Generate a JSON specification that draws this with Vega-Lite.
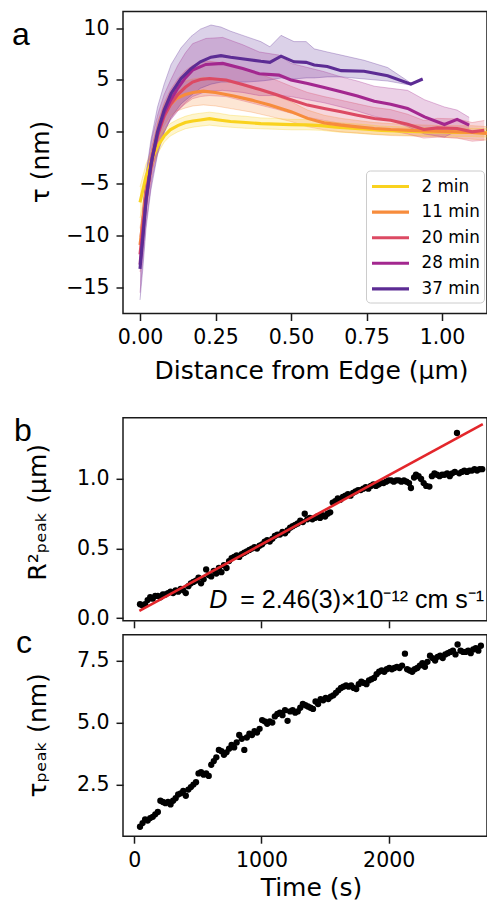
{
  "$schema": "https://vega.github.io/schema/vega-lite/v6.json",
  "padding": {"left": 11, "top": 10.5, "right": 0, "bottom": 0},
  "bounds": "flush",
  "spacing": 104.3,
  "config": {
    "font": "DejaVu Sans",
    "view": {"stroke": "#1a1a1a", "strokeWidth": 1.5},
    "axis": {"labelFont": "DejaVu Sans", "labelFontSize": 20.5, "labelColor": "#000", "titleFont": "DejaVu Sans", "titleFontSize": 25, "titleFontWeight": "normal", "titleColor": "#000", "tickSize": 7, "tickWidth": 1.5, "tickColor": "#1a1a1a", "domain": false, "grid": false, "labelPadding": 7, "labelFlush": false, "labelOverlap": false},
    "title": {"font": "Liberation Sans", "fontSize": 32, "fontWeight": "normal", "anchor": "start", "frame": "group", "offset": 0, "baseline": "alphabetic", "color": "#000"},
    "legend": {"labelFont": "DejaVu Sans", "labelFontSize": 16.8, "labelColor": "#000"}
  },
  "vconcat": [
    {
      "width": 364,
      "height": 302,
      "title": {"text": "a", "dx": -111, "dy": 44},
      "data": {"values": [
        {"s":"2 min","x":0,"y":-6.8,"lo":-8.3,"hi":-5.3},
        {"s":"2 min","x":0.02,"y":-4.3,"lo":-5.5,"hi":-3.1},
        {"s":"2 min","x":0.04,"y":-2.6,"lo":-3.5,"hi":-1.7},
        {"s":"2 min","x":0.06,"y":-1.3,"lo":-2.0,"hi":-0.6},
        {"s":"2 min","x":0.08,"y":-0.4,"lo":-1.0,"hi":0.2},
        {"s":"2 min","x":0.1,"y":0.2,"lo":-0.4,"hi":0.8},
        {"s":"2 min","x":0.125,"y":0.6,"lo":0.0,"hi":1.2},
        {"s":"2 min","x":0.15,"y":0.9,"lo":0.3,"hi":1.5},
        {"s":"2 min","x":0.175,"y":1.05,"lo":0.45,"hi":1.7},
        {"s":"2 min","x":0.2,"y":1.15,"lo":0.55,"hi":1.8},
        {"s":"2 min","x":0.23,"y":1.28,"lo":0.65,"hi":1.9},
        {"s":"2 min","x":0.26,"y":1.15,"lo":0.55,"hi":1.8},
        {"s":"2 min","x":0.3,"y":1.0,"lo":0.45,"hi":1.6},
        {"s":"2 min","x":0.35,"y":0.9,"lo":0.35,"hi":1.5},
        {"s":"2 min","x":0.4,"y":0.8,"lo":0.3,"hi":1.35},
        {"s":"2 min","x":0.45,"y":0.75,"lo":0.25,"hi":1.3},
        {"s":"2 min","x":0.5,"y":0.7,"lo":0.2,"hi":1.2},
        {"s":"2 min","x":0.55,"y":0.68,"lo":0.2,"hi":1.2},
        {"s":"2 min","x":0.6,"y":0.6,"lo":0.15,"hi":1.05},
        {"s":"2 min","x":0.65,"y":0.45,"lo":0.0,"hi":0.9},
        {"s":"2 min","x":0.7,"y":0.35,"lo":-0.1,"hi":0.8},
        {"s":"2 min","x":0.75,"y":0.25,"lo":-0.2,"hi":0.7},
        {"s":"2 min","x":0.8,"y":0.15,"lo":-0.25,"hi":0.55},
        {"s":"2 min","x":0.85,"y":0.1,"lo":-0.3,"hi":0.5},
        {"s":"2 min","x":0.9,"y":0.05,"lo":-0.35,"hi":0.45},
        {"s":"2 min","x":0.95,"y":0.0,"lo":-0.4,"hi":0.4},
        {"s":"2 min","x":1.0,"y":0.0,"lo":-0.4,"hi":0.4},
        {"s":"2 min","x":1.05,"y":-0.05,"lo":-0.45,"hi":0.35},
        {"s":"2 min","x":1.1,"y":-0.05,"lo":-0.45,"hi":0.35},
        {"s":"2 min","x":1.15,"y":-0.1,"lo":-0.5,"hi":0.3},

        {"s":"11 min","x":0,"y":-10.9,"lo":-12.5,"hi":-9.3},
        {"s":"11 min","x":0.02,"y":-6.0,"lo":-7.3,"hi":-4.7},
        {"s":"11 min","x":0.04,"y":-2.5,"lo":-3.6,"hi":-1.4},
        {"s":"11 min","x":0.06,"y":0.0,"lo":-1.0,"hi":1.0},
        {"s":"11 min","x":0.08,"y":1.6,"lo":0.6,"hi":2.6},
        {"s":"11 min","x":0.1,"y":2.6,"lo":1.5,"hi":3.7},
        {"s":"11 min","x":0.12,"y":3.2,"lo":2.0,"hi":4.4},
        {"s":"11 min","x":0.15,"y":3.6,"lo":2.3,"hi":4.9},
        {"s":"11 min","x":0.175,"y":3.8,"lo":2.5,"hi":5.1},
        {"s":"11 min","x":0.21,"y":3.93,"lo":2.6,"hi":5.25},
        {"s":"11 min","x":0.25,"y":3.8,"lo":2.5,"hi":5.1},
        {"s":"11 min","x":0.31,"y":3.45,"lo":2.2,"hi":4.7},
        {"s":"11 min","x":0.37,"y":3.06,"lo":1.9,"hi":4.25},
        {"s":"11 min","x":0.43,"y":2.58,"lo":1.5,"hi":3.7},
        {"s":"11 min","x":0.5,"y":1.95,"lo":1.0,"hi":2.9},
        {"s":"11 min","x":0.555,"y":1.3,"lo":0.5,"hi":2.1},
        {"s":"11 min","x":0.61,"y":0.87,"lo":0.2,"hi":1.6},
        {"s":"11 min","x":0.666,"y":0.65,"lo":0.0,"hi":1.3},
        {"s":"11 min","x":0.72,"y":0.48,"lo":-0.1,"hi":1.1},
        {"s":"11 min","x":0.776,"y":0.33,"lo":-0.25,"hi":0.9},
        {"s":"11 min","x":0.83,"y":0.23,"lo":-0.35,"hi":0.8},
        {"s":"11 min","x":0.9,"y":0.15,"lo":-0.4,"hi":0.7},
        {"s":"11 min","x":0.95,"y":0.1,"lo":-0.45,"hi":0.65},
        {"s":"11 min","x":1.0,"y":0.05,"lo":-0.5,"hi":0.6},
        {"s":"11 min","x":1.05,"y":0.0,"lo":-0.6,"hi":0.6},
        {"s":"11 min","x":1.1,"y":-0.05,"lo":-0.7,"hi":0.6},
        {"s":"11 min","x":1.15,"y":-0.15,"lo":-0.8,"hi":0.5},

        {"s":"20 min","x":0,"y":-11.8,"lo":-13.5,"hi":-10.1},
        {"s":"20 min","x":0.02,"y":-6.2,"lo":-7.6,"hi":-4.8},
        {"s":"20 min","x":0.04,"y":-2.6,"lo":-3.8,"hi":-1.4},
        {"s":"20 min","x":0.06,"y":-0.2,"lo":-1.4,"hi":1.0},
        {"s":"20 min","x":0.08,"y":1.5,"lo":0.2,"hi":2.8},
        {"s":"20 min","x":0.1,"y":2.6,"lo":1.2,"hi":4.0},
        {"s":"20 min","x":0.125,"y":3.6,"lo":2.1,"hi":5.1},
        {"s":"20 min","x":0.15,"y":4.3,"lo":2.7,"hi":5.9},
        {"s":"20 min","x":0.174,"y":4.8,"lo":3.2,"hi":6.4},
        {"s":"20 min","x":0.2,"y":5.05,"lo":3.4,"hi":6.7},
        {"s":"20 min","x":0.23,"y":5.15,"lo":3.5,"hi":6.8},
        {"s":"20 min","x":0.285,"y":5.0,"lo":3.4,"hi":6.6},
        {"s":"20 min","x":0.34,"y":4.57,"lo":3.0,"hi":6.1},
        {"s":"20 min","x":0.395,"y":4.1,"lo":2.6,"hi":5.6},
        {"s":"20 min","x":0.45,"y":3.6,"lo":2.2,"hi":5.0},
        {"s":"20 min","x":0.5,"y":3.1,"lo":1.8,"hi":4.4},
        {"s":"20 min","x":0.555,"y":2.58,"lo":1.4,"hi":3.8},
        {"s":"20 min","x":0.61,"y":2.26,"lo":1.1,"hi":3.4},
        {"s":"20 min","x":0.666,"y":1.93,"lo":0.8,"hi":3.05},
        {"s":"20 min","x":0.72,"y":1.6,"lo":0.5,"hi":2.7},
        {"s":"20 min","x":0.776,"y":1.29,"lo":0.25,"hi":2.35},
        {"s":"20 min","x":0.83,"y":1.13,"lo":0.1,"hi":2.15},
        {"s":"20 min","x":0.886,"y":0.74,"lo":-0.2,"hi":1.7},
        {"s":"20 min","x":0.94,"y":0.23,"lo":-0.6,"hi":1.1},
        {"s":"20 min","x":0.985,"y":0.39,"lo":-0.5,"hi":1.3},
        {"s":"20 min","x":1.05,"y":0.33,"lo":-0.6,"hi":1.25},
        {"s":"20 min","x":1.1,"y":0.0,"lo":-0.9,"hi":0.9},
        {"s":"20 min","x":1.14,"y":0.16,"lo":-0.8,"hi":1.1},

        {"s":"28 min","x":0,"y":-12.8,"lo":-15.5,"hi":-10.1},
        {"s":"28 min","x":0.02,"y":-6.5,"lo":-8.8,"hi":-4.2},
        {"s":"28 min","x":0.04,"y":-2.5,"lo":-4.5,"hi":-0.5},
        {"s":"28 min","x":0.06,"y":0.0,"lo":-1.8,"hi":1.8},
        {"s":"28 min","x":0.08,"y":1.8,"lo":0.0,"hi":3.6},
        {"s":"28 min","x":0.1,"y":3.0,"lo":1.1,"hi":4.9},
        {"s":"28 min","x":0.125,"y":4.2,"lo":2.0,"hi":6.4},
        {"s":"28 min","x":0.15,"y":5.2,"lo":2.8,"hi":7.6},
        {"s":"28 min","x":0.174,"y":5.95,"lo":3.4,"hi":8.5},
        {"s":"28 min","x":0.218,"y":6.5,"lo":3.9,"hi":9.0},
        {"s":"28 min","x":0.274,"y":6.6,"lo":4.0,"hi":9.1},
        {"s":"28 min","x":0.34,"y":6.1,"lo":3.8,"hi":8.4},
        {"s":"28 min","x":0.395,"y":5.6,"lo":3.5,"hi":7.7},
        {"s":"28 min","x":0.46,"y":5.47,"lo":3.5,"hi":7.4},
        {"s":"28 min","x":0.5,"y":5.0,"lo":3.4,"hi":6.6},
        {"s":"28 min","x":0.555,"y":4.67,"lo":3.1,"hi":6.2},
        {"s":"28 min","x":0.61,"y":4.28,"lo":2.8,"hi":5.8},
        {"s":"28 min","x":0.666,"y":3.86,"lo":2.4,"hi":5.3},
        {"s":"28 min","x":0.72,"y":3.45,"lo":2.0,"hi":4.9},
        {"s":"28 min","x":0.776,"y":2.96,"lo":1.5,"hi":4.4},
        {"s":"28 min","x":0.83,"y":2.67,"lo":1.1,"hi":4.2},
        {"s":"28 min","x":0.886,"y":2.26,"lo":0.5,"hi":4.0},
        {"s":"28 min","x":0.942,"y":1.45,"lo":-0.2,"hi":3.1},
        {"s":"28 min","x":1.008,"y":0.71,"lo":-0.5,"hi":2.4},
        {"s":"28 min","x":1.05,"y":1.2,"lo":0.1,"hi":2.1},
        {"s":"28 min","x":1.09,"y":0.65,"lo":0.1,"hi":1.4},

        {"s":"37 min","x":0,"y":-13.2,"lo":-16.2,"hi":-10.5},
        {"s":"37 min","x":0.01,"y":-10.0,"lo":-13.0,"hi":-7.5},
        {"s":"37 min","x":0.02,"y":-6.6,"lo":-9.3,"hi":-4.0},
        {"s":"37 min","x":0.036,"y":-3.2,"lo":-5.6,"hi":-0.8},
        {"s":"37 min","x":0.058,"y":0.0,"lo":-2.2,"hi":2.4},
        {"s":"37 min","x":0.08,"y":2.1,"lo":-0.1,"hi":4.6},
        {"s":"37 min","x":0.103,"y":3.7,"lo":1.4,"hi":6.5},
        {"s":"37 min","x":0.136,"y":5.15,"lo":2.7,"hi":8.1},
        {"s":"37 min","x":0.169,"y":6.1,"lo":3.5,"hi":9.2},
        {"s":"37 min","x":0.2,"y":6.75,"lo":4.2,"hi":9.9},
        {"s":"37 min","x":0.235,"y":7.2,"lo":4.6,"hi":10.3},
        {"s":"37 min","x":0.268,"y":7.35,"lo":4.8,"hi":10.1},
        {"s":"37 min","x":0.3,"y":7.2,"lo":4.8,"hi":9.7},
        {"s":"37 min","x":0.35,"y":7.0,"lo":4.8,"hi":9.2},
        {"s":"37 min","x":0.4,"y":6.8,"lo":4.9,"hi":8.7},
        {"s":"37 min","x":0.43,"y":6.7,"lo":5.0,"hi":8.2},
        {"s":"37 min","x":0.467,"y":7.3,"lo":5.2,"hi":9.3},
        {"s":"37 min","x":0.51,"y":6.75,"lo":5.1,"hi":8.7},
        {"s":"37 min","x":0.55,"y":6.7,"lo":5.2,"hi":8.7},
        {"s":"37 min","x":0.577,"y":6.45,"lo":5.2,"hi":8.0},
        {"s":"37 min","x":0.62,"y":6.3,"lo":5.3,"hi":7.7},
        {"s":"37 min","x":0.666,"y":5.9,"lo":5.3,"hi":7.4},
        {"s":"37 min","x":0.742,"y":5.85,"lo":5.1,"hi":6.9},
        {"s":"37 min","x":0.82,"y":5.4,"lo":4.9,"hi":6.2},
        {"s":"37 min","x":0.897,"y":4.6,"lo":4.5,"hi":4.7},
        {"s":"37 min","x":0.936,"y":5.1,"lo":5.1,"hi":5.1}
      ]},
      "encoding": {
        "x": {"field": "x", "type": "quantitative", "scale": {"domain": [-0.0563, 1.149], "nice": false, "zero": false}, "axis": {"values": [0, 0.25, 0.5, 0.75, 1], "format": ".2f", "title": "Distance from Edge (μm)", "titleX": 188, "titlePadding": 10}},
        "color": {"field": "s", "type": "nominal", "scale": {"domain": ["2 min", "11 min", "20 min", "28 min", "37 min"], "range": ["#f9d21e", "#f78c3c", "#dc4a63", "#a3278f", "#5c2c94"]}, "legend": {"orient": "none", "legendX": 243, "legendY": 159, "title": null, "symbolType": "M-1.85,0H1.85", "symbolStrokeWidth": 3.1, "symbolSize": 400, "symbolOpacity": 1, "symbolOffset": 8.5, "labelOffset": 19, "rowPadding": 4.6, "padding": 4, "fillColor": "rgba(255,255,255,0.85)", "strokeColor": "#cccccc", "cornerRadius": 4}}
      },
      "layer": [
        {"mark": {"type": "area", "opacity": 0.22, "clip": true}, "encoding": {"y": {"field": "lo", "type": "quantitative", "scale": {"domain": [-17.5, 11.6], "nice": false, "zero": false}, "axis": {"values": [-15, -10, -5, 0, 5, 10], "labelExpr": "replace(datum.label, '-', '−')", "title": "τ (nm)", "titleX": -75, "titleY": 150, "titleBaseline": "alphabetic"}}, "y2": {"field": "hi"}}},
        {"mark": {"type": "line", "strokeWidth": 1, "opacity": 0.3, "clip": true}, "encoding": {"y": {"field": "lo", "type": "quantitative", "title": "τ (nm)"}}},
        {"mark": {"type": "line", "strokeWidth": 1, "opacity": 0.3, "clip": true}, "encoding": {"y": {"field": "hi", "type": "quantitative", "title": "τ (nm)"}}},
        {"mark": {"type": "line", "strokeWidth": 3.1, "clip": true}, "encoding": {"y": {"field": "y", "type": "quantitative", "title": "τ (nm)"}}}
      ]
    },
    {
      "bounds": "flush",
      "spacing": 14,
      "vconcat": [
        {
          "width": 364,
          "height": 203,
          "title": {"text": "b", "dx": -109, "dy": 34.4},
          "layer": [
            {
              "data": {"values": [
                {"t":45,"r":0.10},{"t":65,"r":0.09},{"t":85,"r":0.10},{"t":105,"r":0.13},{"t":125,"r":0.15},{"t":145,"r":0.14},{"t":165,"r":0.16},{"t":185,"r":0.16},{"t":205,"r":0.15},{"t":225,"r":0.17},
                {"t":245,"r":0.17},{"t":265,"r":0.18},{"t":285,"r":0.19},{"t":305,"r":0.18},{"t":325,"r":0.20},{"t":345,"r":0.19},{"t":365,"r":0.21},{"t":385,"r":0.20},{"t":405,"r":0.18},{"t":425,"r":0.23},
                {"t":445,"r":0.25},{"t":465,"r":0.26},{"t":485,"r":0.27},{"t":505,"r":0.29},{"t":525,"r":0.25},{"t":545,"r":0.28},{"t":565,"r":0.35},{"t":585,"r":0.31},{"t":605,"r":0.30},{"t":625,"r":0.34},
                {"t":645,"r":0.32},{"t":665,"r":0.36},{"t":685,"r":0.33},{"t":705,"r":0.38},{"t":725,"r":0.36},{"t":745,"r":0.41},{"t":765,"r":0.43},{"t":785,"r":0.44},{"t":805,"r":0.45},{"t":825,"r":0.44},
                {"t":845,"r":0.46},{"t":865,"r":0.47},{"t":885,"r":0.48},{"t":905,"r":0.49},{"t":925,"r":0.50},{"t":945,"r":0.51},{"t":965,"r":0.50},{"t":985,"r":0.52},{"t":1005,"r":0.53},{"t":1025,"r":0.55},
                {"t":1045,"r":0.56},{"t":1065,"r":0.55},{"t":1085,"r":0.57},{"t":1105,"r":0.59},{"t":1125,"r":0.60},{"t":1145,"r":0.60},{"t":1165,"r":0.62},{"t":1185,"r":0.61},{"t":1205,"r":0.63},{"t":1225,"r":0.65},
                {"t":1245,"r":0.66},{"t":1265,"r":0.67},{"t":1285,"r":0.68},{"t":1305,"r":0.70},{"t":1325,"r":0.69},{"t":1340,"r":0.75},{"t":1360,"r":0.71},{"t":1380,"r":0.72},{"t":1400,"r":0.71},{"t":1420,"r":0.72},
                {"t":1440,"r":0.73},{"t":1460,"r":0.72},{"t":1480,"r":0.74},{"t":1500,"r":0.73},{"t":1520,"r":0.75},{"t":1540,"r":0.76},{"t":1560,"r":0.83},{"t":1580,"r":0.84},{"t":1600,"r":0.86},{"t":1620,"r":0.85},
                {"t":1640,"r":0.87},{"t":1660,"r":0.88},{"t":1680,"r":0.89},{"t":1700,"r":0.88},{"t":1720,"r":0.90},{"t":1740,"r":0.91},{"t":1760,"r":0.92},{"t":1780,"r":0.92},{"t":1800,"r":0.93},{"t":1820,"r":0.94},
                {"t":1840,"r":0.93},{"t":1860,"r":0.95},{"t":1880,"r":0.96},{"t":1900,"r":0.95},{"t":1920,"r":0.96},{"t":1940,"r":0.97},{"t":1960,"r":0.97},{"t":1980,"r":0.98},{"t":2000,"r":0.99},{"t":2020,"r":0.99},
                {"t":2040,"r":0.98},{"t":2060,"r":0.99},{"t":2080,"r":0.99},{"t":2100,"r":0.98},{"t":2120,"r":0.99},{"t":2140,"r":0.98},{"t":2160,"r":0.97},{"t":2175,"r":0.935},{"t":2200,"r":1.01},{"t":2215,"r":1.03},
                {"t":2235,"r":1.02},{"t":2255,"r":1.00},{"t":2275,"r":0.97},{"t":2295,"r":0.95},{"t":2320,"r":0.945},{"t":2340,"r":1.02},{"t":2360,"r":1.04},{"t":2380,"r":1.03},{"t":2400,"r":1.02},{"t":2420,"r":1.03},
                {"t":2440,"r":1.03},{"t":2460,"r":1.04},{"t":2480,"r":1.02},{"t":2500,"r":1.04},{"t":2520,"r":1.05},{"t":2537,"r":1.33},{"t":2555,"r":1.04},{"t":2575,"r":1.05},{"t":2595,"r":1.06},{"t":2615,"r":1.05},
                {"t":2635,"r":1.06},{"t":2655,"r":1.06},{"t":2675,"r":1.07},{"t":2695,"r":1.06},{"t":2715,"r":1.07},{"t":2735,"r":1.07}
              ]},
              "mark": {"type": "circle", "size": 40, "color": "#000", "opacity": 1, "clip": true},
              "encoding": {
                "x": {"field": "t", "type": "quantitative", "scale": {"domain": [-88.8, 2773], "nice": false, "zero": false}, "axis": {"values": [0, 1000, 2000], "labels": false, "title": null}},
                "y": {"field": "r", "type": "quantitative", "scale": {"domain": [-0.019, 1.439], "nice": false, "zero": false}, "axis": {"values": [0, 0.5, 1], "format": ".1f", "title": "R²ₚₑₐₖ (μm)", "titleX": -78, "titleY": 94, "titleBaseline": "alphabetic"}}
              }
            },
            {
              "data": {"values": [{"t": 40, "r": 0.053}, {"t": 2740, "r": 1.393}]},
              "mark": {"type": "line", "color": "#e3262b", "strokeWidth": 2.6, "clip": true},
              "encoding": {"x": {"field": "t", "type": "quantitative"}, "y": {"field": "r", "type": "quantitative"}}
            },
            {
              "data": {"values": [{"t": 590, "r": 0.076, "label": "D"}]},
              "mark": {"type": "text", "font": "Liberation Sans", "fontSize": 25, "fontStyle": "italic", "align": "left", "baseline": "alphabetic", "color": "#000"},
              "encoding": {"x": {"field": "t", "type": "quantitative"}, "y": {"field": "r", "type": "quantitative"}, "text": {"field": "label"}}
            },
            {
              "data": {"values": [{"t": 2750, "r": 0.076, "label": "= 2.46(3)×10⁻¹² cm s⁻¹"}]},
              "mark": {"type": "text", "font": "Liberation Sans", "fontSize": 25, "align": "right", "baseline": "alphabetic", "color": "#000"},
              "encoding": {"x": {"field": "t", "type": "quantitative"}, "y": {"field": "r", "type": "quantitative"}, "text": {"field": "label"}}
            }
          ]
        },
        {
          "width": 364,
          "height": 201.4,
          "title": {"text": "c", "dx": -107, "dy": 29},
          "data": {"values": [
            {"t":45,"v":0.80},{"t":65,"v":0.95},{"t":85,"v":1.10},{"t":105,"v":1.05},{"t":125,"v":1.15},{"t":145,"v":1.20},{"t":165,"v":1.30},{"t":185,"v":1.40},{"t":205,"v":1.85},{"t":225,"v":1.80},
            {"t":245,"v":1.75},{"t":265,"v":1.80},{"t":285,"v":1.70},{"t":305,"v":1.85},{"t":325,"v":1.95},{"t":345,"v":2.10},{"t":365,"v":2.15},{"t":385,"v":2.25},{"t":405,"v":2.05},{"t":425,"v":2.30},
            {"t":445,"v":2.40},{"t":465,"v":2.50},{"t":485,"v":2.60},{"t":505,"v":2.95},{"t":525,"v":3.00},{"t":545,"v":2.90},{"t":565,"v":2.95},{"t":585,"v":2.85},{"t":605,"v":3.30},{"t":625,"v":3.45},
            {"t":645,"v":3.60},{"t":665,"v":3.90},{"t":685,"v":3.85},{"t":705,"v":3.70},{"t":725,"v":3.80},{"t":745,"v":3.95},{"t":765,"v":4.10},{"t":785,"v":4.00},{"t":805,"v":4.20},{"t":825,"v":4.50},
            {"t":845,"v":4.35},{"t":865,"v":3.90},{"t":885,"v":4.40},{"t":905,"v":4.55},{"t":925,"v":4.50},{"t":945,"v":4.65},{"t":965,"v":4.60},{"t":985,"v":4.75},{"t":1005,"v":5.10},{"t":1025,"v":5.05},
            {"t":1045,"v":4.95},{"t":1065,"v":5.05},{"t":1085,"v":5.00},{"t":1105,"v":5.25},{"t":1125,"v":5.35},{"t":1145,"v":5.40},{"t":1165,"v":5.30},{"t":1185,"v":5.50},{"t":1205,"v":5.07},{"t":1225,"v":5.45},
            {"t":1245,"v":5.50},{"t":1265,"v":5.40},{"t":1285,"v":5.45},{"t":1305,"v":5.60},{"t":1325,"v":5.75},{"t":1345,"v":5.70},{"t":1365,"v":5.65},{"t":1385,"v":5.60},{"t":1405,"v":5.55},{"t":1425,"v":5.85},
            {"t":1445,"v":5.75},{"t":1465,"v":5.95},{"t":1485,"v":5.90},{"t":1505,"v":6.00},{"t":1525,"v":5.95},{"t":1545,"v":6.05},{"t":1565,"v":6.10},{"t":1585,"v":6.20},{"t":1605,"v":6.30},{"t":1625,"v":6.40},
            {"t":1645,"v":6.45},{"t":1665,"v":6.50},{"t":1685,"v":6.45},{"t":1705,"v":6.50},{"t":1725,"v":6.40},{"t":1745,"v":6.35},{"t":1765,"v":6.55},{"t":1785,"v":6.65},{"t":1805,"v":6.60},{"t":1825,"v":6.55},
            {"t":1845,"v":6.70},{"t":1865,"v":6.75},{"t":1885,"v":6.80},{"t":1905,"v":6.95},{"t":1925,"v":7.05},{"t":1945,"v":7.10},{"t":1965,"v":7.05},{"t":1985,"v":7.15},{"t":2005,"v":7.20},{"t":2025,"v":7.15},
            {"t":2045,"v":7.20},{"t":2065,"v":7.25},{"t":2085,"v":7.20},{"t":2105,"v":7.30},{"t":2128,"v":7.78},{"t":2145,"v":7.15},{"t":2165,"v":7.10},{"t":2185,"v":7.05},{"t":2205,"v":7.15},{"t":2225,"v":7.20},
            {"t":2245,"v":7.30},{"t":2265,"v":7.40},{"t":2285,"v":7.25},{"t":2305,"v":7.45},{"t":2325,"v":7.70},{"t":2345,"v":7.60},{"t":2365,"v":7.50},{"t":2385,"v":7.65},{"t":2405,"v":7.70},{"t":2425,"v":7.60},
            {"t":2445,"v":7.75},{"t":2465,"v":7.80},{"t":2485,"v":7.85},{"t":2505,"v":7.90},{"t":2525,"v":7.75},{"t":2542,"v":8.15},{"t":2565,"v":7.90},{"t":2585,"v":7.85},{"t":2605,"v":7.85},{"t":2625,"v":7.90},
            {"t":2645,"v":7.80},{"t":2665,"v":7.95},{"t":2685,"v":8.00},{"t":2705,"v":7.90},{"t":2725,"v":8.10}
          ]},
          "mark": {"type": "circle", "size": 40, "color": "#000", "opacity": 1, "clip": true},
          "encoding": {
            "x": {"field": "t", "type": "quantitative", "scale": {"domain": [-88.8, 2773], "nice": false, "zero": false}, "axis": {"values": [0, 1000, 2000], "format": "d", "title": "Time (s)", "titleX": 188, "titlePadding": 5}},
            "y": {"field": "v", "type": "quantitative", "scale": {"domain": [0.42, 8.54], "nice": false, "zero": false}, "axis": {"values": [2.5, 5, 7.5], "format": ".1f", "title": "τₚₑₐₖ (nm)", "titleX": -78, "titleY": 100, "titleBaseline": "alphabetic"}}
          }
        }
      ]
    }
  ]
}
